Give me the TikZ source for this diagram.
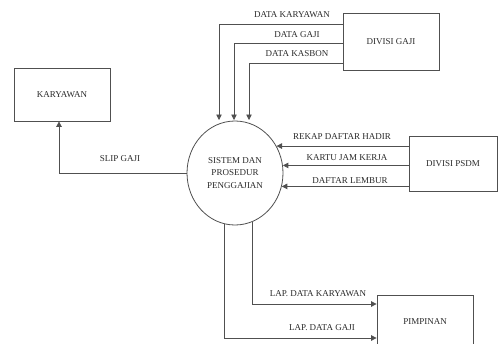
\documentclass[tikz,border=0pt]{standalone}
\usepackage{fontspec}
\setmainfont{Liberation Serif}
\usetikzlibrary{arrows.meta,shapes.geometric}
\definecolor{linegray}{HTML}{505050}
\definecolor{textgray}{HTML}{2A2A2A}
\tikzset{
  entity/.style={draw=linegray, line width=0.8pt, rectangle, align=center, text=textgray, inner sep=0pt},
  proc/.style={draw=linegray, line width=0.8pt, ellipse, minimum width=96pt, minimum height=104pt, inner sep=0pt, align=center, text=textgray, font=\fontsize{9}{12.5}\selectfont},
  flow/.style={draw=linegray, line width=0.8pt, -{Triangle[length=5.5pt,width=5.5pt]}},
  lbl/.style={text=textgray, inner sep=0pt}
}
\begin{document}
\begin{tikzpicture}[x=1pt,y=-1pt, font=\fontsize{9}{10.5}\selectfont]
\useasboundingbox (0,0) rectangle (500,343);
\clip (0,0) rectangle (500,343);
\fill[white] (0,0) rectangle (500,343);

\node[proc] (sys) at (235,173) {SISTEM DAN\\PROSEDUR\\PENGGAJIAN};
\node[entity, minimum width=96pt, minimum height=53pt] (kar) at (62,94.5) {KARYAWAN};
\node[entity, minimum width=96pt, minimum height=57pt] (gaji) at (391,41.5) {DIVISI GAJI};
\node[entity, minimum width=88pt, minimum height=55pt] (psdm) at (453,163.5) {DIVISI PSDM};
\node[entity, minimum width=96pt, minimum height=54pt] (pim) at (425,322) {PIMPINAN};

\coordinate (t1) at (219,120);
\coordinate (t2) at (234,120);
\coordinate (t3) at (249,120);

% from DIVISI GAJI
\draw[flow] (gaji.west |- 0,24) -| (t1);
\draw[flow] (gaji.west |- 0,43) -| (t2);
\draw[flow] (gaji.west |- 0,63) -| (t3);
\node[lbl] (l1) at (292,15) {DATA KARYAWAN};
\node[lbl] (l2) at (297,35) {DATA GAJI};
\node[lbl] (l3) at (297,54) {DATA KASBON};

% to KARYAWAN
\draw[flow] (sys.west) -| (kar.south -| 59,0);
\node[lbl] (l4) at (120,159) {SLIP GAJI};

% from DIVISI PSDM
\draw[flow] (sys.33.4 -| psdm.west) -- (sys.33.4);
\draw[flow] (sys.9.6 -| psdm.west) -- (sys.9.6);
\draw[flow] (sys.-16.9 -| psdm.west) -- (sys.-16.9);
\node[lbl] (l5) at (342,137) {REKAP DAFTAR HADIR};
\node[lbl] (l6) at (347,158) {KARTU JAM KERJA};
\node[lbl] (l7) at (350,181) {DAFTAR LEMBUR};

% to PIMPINAN
\draw[flow] (sys.-71.9) |- (pim.west |- 0,304);
\draw[flow] (sys.-102.3) |- (pim.west |- 0,338);
\node[lbl] (l8) at (318,294) {LAP. DATA KARYAWAN};
\node[lbl] (l9) at (322,328) {LAP. DATA GAJI};
\end{tikzpicture}
\end{document}
